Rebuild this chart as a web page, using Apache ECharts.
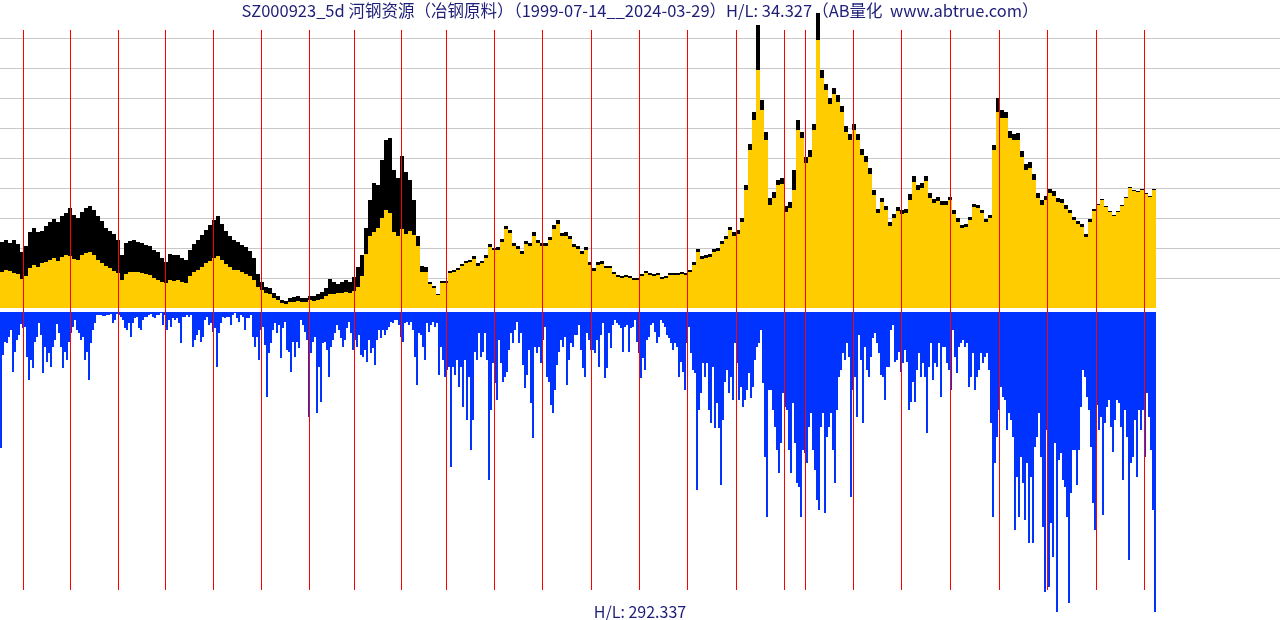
<!DOCTYPE html>
<html>
<head>
<meta charset="utf-8">
<script src="https://cdn.jsdelivr.net/npm/echarts@6/dist/echarts.min.js"></script>
<style>
html,body{margin:0;padding:0;background:#fff;}
#main{width:1280px;height:620px;}
</style>
</head>
<body>
<div id="main"></div>
<script>
// ---- data ----
const titleText = 'SZ000923_5d 河钢资源（冶钢原料）（1999-07-14__2024-03-29）H/L: 34.327（AB量化  www.abtrue.com）';
const volumeHL = 'H/L: 292.337';

// year-start positions, in 5-day periods from the first bar (2000 ... 2024)
const yearStarts = [23,70,118,165,213,261,309,354,401,446,494,542,591,639,687,736,784,805,853,901,950,999,1047,1096,1144];
const totalPeriods = 1280;

// price (sampled every 4 periods): close-based yellow, upper black
const priceClose = [
36,38,37,35,34,29,32,40,43,41,
45,46,48,50,47,51,53,52,49,48,
53,55,56,53,48,45,42,40,37,35,
28,34,36,36,36,35,34,33,30,28,
26,25,28,27,28,26,25,32,36,38,
41,45,47,50,52,48,44,41,38,38,
36,34,32,28,21,18,15,14,10,8,
5,4,6,6,7,6,6,8,7,8,
9,12,14,14,15,15,16,15,17,21,
32,54,72,76,80,90,98,95,76,72,
79,74,77,73,62,36,36,24,20,13,
25,25,35,36,38,42,45,46,49,42,
45,50,61,58,58,66,79,75,62,59,
54,64,62,72,65,62,62,68,79,84,
72,72,69,61,59,54,58,43,37,43,
44,40,40,34,31,30,31,30,28,28,
32,35,33,32,33,29,30,33,33,33,
34,33,36,43,56,49,50,51,56,57,
64,69,78,72,74,86,118,158,188,238,
198,168,103,110,123,124,96,100,118,178,
170,145,151,178,268,230,218,204,214,206,
196,176,168,178,168,153,146,134,113,95,
106,98,82,90,97,94,95,108,126,118,
120,127,110,105,107,103,103,108,94,86,
80,81,88,101,100,95,86,90,158,196,
190,190,170,168,168,151,138,140,128,110,
103,108,115,112,106,105,99,95,88,84,
81,71,86,97,103,108,101,96,92,96,
102,110,120,117,116,118,114,111,118
];
const priceHigh = [
66,68,65,68,64,56,62,76,80,76,
77,82,86,89,86,92,95,100,93,90,
96,100,102,98,92,87,80,77,74,68,
53,65,67,68,66,65,63,62,58,56,
50,46,54,53,53,50,48,58,64,68,
73,78,83,88,92,84,77,72,68,66,
63,61,57,50,34,26,21,20,15,12,
8,7,10,11,12,10,10,12,12,14,
16,20,29,26,24,26,28,26,31,41,
53,80,108,125,123,148,168,170,138,130,
152,136,128,108,72,42,41,26,22,14,
27,27,37,38,40,44,47,48,52,45,
47,53,64,60,61,69,82,78,65,62,
57,67,65,76,68,65,65,71,83,88,
75,76,72,64,62,57,61,46,40,46,
47,42,42,36,33,32,33,32,30,30,
34,37,35,34,35,31,32,35,35,35,
36,35,38,46,59,52,53,54,59,60,
67,72,81,76,78,90,123,164,196,283,
208,176,110,116,128,130,102,106,138,188,
176,151,158,184,295,238,224,210,220,213,
202,182,174,184,174,159,152,140,118,99,
110,102,86,94,101,98,99,114,132,123,
125,132,115,109,111,107,107,111,98,90,
83,84,91,104,103,98,89,93,163,210,
198,196,177,174,175,157,144,146,134,115,
108,112,119,117,110,109,103,98,91,87,
84,74,89,99,104,109,102,97,93,97,
103,111,121,118,117,119,115,112,119
];

// volume (sampled every 2 periods)
const volume = [
136,43,30,31,25,18,60,40,28,23,
12,16,15,45,68,48,56,30,25,11,
23,61,35,50,41,55,35,28,12,21,
35,56,40,48,30,21,15,8,18,21,
28,25,48,40,68,31,18,11,3,3,
3,4,4,3,3,2,11,8,2,3,
5,8,16,18,11,25,11,6,5,16,
18,8,5,5,3,2,5,6,3,3,
1,13,3,18,8,15,6,8,6,11,
31,5,5,3,5,3,35,28,23,18,
30,25,8,5,13,11,20,16,55,21,
11,5,6,5,5,13,3,1,6,10,
3,5,18,6,6,3,25,35,25,48,
18,15,33,85,41,31,18,11,21,13,
46,16,10,38,40,
60,30,45,30,36,8,13,20,28,105,
41,30,25,101,55,90,31,30,38,65,
35,28,21,13,18,26,35,28,16,10,
21,38,28,35,23,43,45,38,50,28,
41,36,53,28,18,26,18,23,18,15,
10,11,8,8,13,25,30,11,10,13,
10,18,45,73,21,23,35,48,11,20,
13,10,15,11,63,35,48,65,58,55,
155,55,63,48,75,55,95,48,108,65,
138,108,40,48,21,45,40,21,48,168,
98,51,71,88,28,51,70,65,60,38,
21,31,18,10,31,21,53,76,63,38,
91,126,35,41,35,51,28,15,65,70,
93,101,78,53,40,28,35,25,73,48,
31,35,23,23,13,
38,56,65,21,28,38,38,41,28,55,
23,11,66,56,21,36,13,8,11,13,
16,40,15,13,40,16,15,8,30,41,
66,46,58,28,25,13,11,20,31,25,
8,11,15,23,26,31,38,31,35,65,
50,60,78,31,15,41,58,61,178,98,
81,51,65,51,98,111,55,116,91,116,
173,108,70,58,81,65,88,31,51,88,
75,95,88,78,61,86,75,48,35,31,
18,71,145,205,78,78,98,115,138,161,
131,81,95,98,138,161,91,131,171,175,
205,138,141,151,115,101,138,158,188,198,
115,101,201,125,115,101,138,171,98,65,
58,41,48,31,45,185,78,65,105,23,
48,111,35,58,65,
45,26,21,31,41,63,65,88,55,55,
18,13,50,48,40,60,51,38,50,98,
90,70,90,58,41,65,51,65,121,55,
31,68,51,55,31,85,35,35,51,58,
78,18,45,61,35,31,28,35,31,75,
65,41,78,65,58,41,51,45,41,58,
111,205,151,125,98,75,85,88,118,101,
108,125,218,165,205,145,171,208,151,231,
165,231,135,125,101,145,215,280,118,275,
211,245,131,300,148,141,168,175,205,291,
181,138,138,173,138,95,58,65,85,98,
135,191,218,93,118,105,203,111,95,88,
115,140,108,88,91,115,168,98,125,248,
151,145,108,165,98,118,98,145,81,105,
138,198,300
];

// ---- build options ----
const priceCats = Array.from({length: totalPeriods / 4}, (_, i) => i * 4);
const volCats = Array.from({length: totalPeriods / 2}, (_, i) => i * 2);
const textColor = '#1e1e78';
const fontFamily = '"Noto Sans CJK SC", "Noto Sans", sans-serif';

const chart = echarts.init(document.getElementById('main'), null, {renderer: 'canvas'});
const hidden = {show: false};
chart.setOption({
  animation: false,
  backgroundColor: '#ffffff',
  title: [
    {text: titleText, left: 'center', top: 2, padding: 0,
     textStyle: {color: textColor, fontSize: 16.5, fontWeight: 'normal', fontFamily}},
    {text: volumeHL, left: 'center', top: 604, padding: 0,
     textStyle: {color: textColor, fontSize: 16, fontWeight: 'normal', fontFamily}}
  ],
  grid: [
    {left: 0, right: 0, top: 38, height: 240, show: false},   // horizontal guide lines
    {left: 0, right: 0, top: 30, height: 560, show: false},   // year lines
    {left: 0, right: 0, top: 8, height: 300, show: false},    // price
    {left: 0, right: 0, top: 312, height: 300, show: false}   // volume
  ],
  xAxis: [
    {gridIndex: 0, type: 'value', min: 0, max: 1, show: false},
    {gridIndex: 1, type: 'value', min: -0.5, max: totalPeriods - 0.5, show: false},
    {gridIndex: 2, type: 'category', data: priceCats, show: false, boundaryGap: true},
    {gridIndex: 3, type: 'category', data: volCats, show: false, boundaryGap: true}
  ],
  yAxis: [
    {gridIndex: 0, type: 'value', min: 0, max: 8, interval: 1,
     axisLine: hidden, axisTick: hidden, axisLabel: hidden,
     splitLine: {show: true, lineStyle: {color: '#c8c8c8', width: 1}}},
    {gridIndex: 1, type: 'value', min: 0, max: 1, show: false},
    {gridIndex: 2, type: 'value', min: 0, max: 300, show: false},
    {gridIndex: 3, type: 'value', min: 0, max: 300, inverse: true, show: false}
  ],
  series: [
    {type: 'line', xAxisIndex: 0, yAxisIndex: 0, data: [], silent: true},
    {type: 'scatter', xAxisIndex: 1, yAxisIndex: 1, data: [], z: 1, silent: true,
     markLine: {silent: true, symbol: ['none', 'none'], label: {show: false},
       lineStyle: {color: '#ff0000', width: 1, type: 'solid'},
       emphasis: {disabled: true},
       data: yearStarts.map(v => ({xAxis: v}))}},
    {name: 'high', type: 'bar', xAxisIndex: 2, yAxisIndex: 2, data: priceHigh,
     barGap: '-100%', barCategoryGap: '0%', itemStyle: {color: '#000000'}, z: 3, silent: true},
    {name: 'close', type: 'bar', xAxisIndex: 2, yAxisIndex: 2, data: priceClose,
     barGap: '-100%', barCategoryGap: '0%', itemStyle: {color: '#ffcc00'}, z: 4, silent: true},
    {name: 'volume', type: 'bar', xAxisIndex: 3, yAxisIndex: 3, data: volume,
     barCategoryGap: '0%', itemStyle: {color: '#0033ff'}, z: 3, silent: true}
  ]
});
</script>
</body>
</html>
